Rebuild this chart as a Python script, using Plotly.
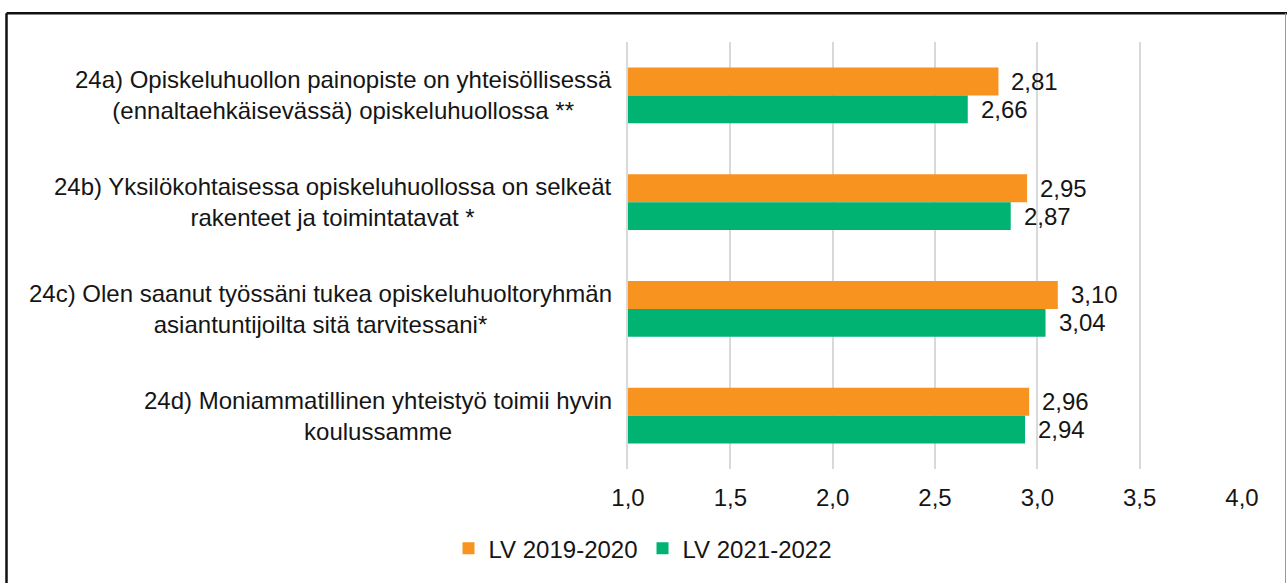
import plotly.graph_objects as go

categories = [
    "24a) Opiskeluhuollon painopiste on yhteisöllisessä<br>(ennaltaehkäisevässä) opiskeluhuollossa **",
    "24b) Yksilökohtaisessa opiskeluhuollossa on selkeät<br>rakenteet ja toimintatavat *",
    "24c) Olen saanut työssäni tukea opiskeluhuoltoryhmän<br>asiantuntijoilta sitä tarvitessani*",
    "24d) Moniammatillinen yhteistyö toimii hyvin<br>koulussamme",
]
cat_ids = ["24a", "24b", "24c", "24d"]
series_names = ["LV 2019-2020", "LV 2021-2022"]
values_2019 = [2.81, 2.95, 3.10, 2.96]
values_2021 = [2.66, 2.87, 3.04, 2.94]
x_ticks = [1.0, 1.5, 2.0, 2.5, 3.0, 3.5, 4.0]

ORANGE = "#F7931E"
GREEN = "#00B373"
FONT = "Liberation Sans, Arial, sans-serif"
TXT = "#151515"
FS = 24

W, H = 1287, 583
L, R, T, B = 628, 45, 42, 112
pw, ph = W - L - R, H - T - B

def px_x(p):
    return (p - L) / pw

def px_y(p):
    return (H - B - p) / ph

fig = go.Figure()
fig.add_trace(go.Bar(y=cat_ids, x=values_2019, name=series_names[0], orientation="h",
                     marker=dict(color=ORANGE, line=dict(width=0)), base=0))
fig.add_trace(go.Bar(y=cat_ids, x=values_2021, name=series_names[1], orientation="h",
                     marker=dict(color=GREEN, line=dict(width=0)), base=0))

annotations = []
for cid, v1, v2 in zip(cat_ids, values_2019, values_2021):
    for v, ys in ((v1, 14), (v2, -14)):
        annotations.append(dict(x=v, y=cid, xref="x", yref="y", text=f"{v:.2f}".replace(".", ","),
                                showarrow=False, xanchor="left", yanchor="middle", xshift=11, yshift=ys,
                                font=dict(family=FONT, size=FS, color=TXT)))
for cid, lab in zip(cat_ids, categories):
    annotations.append(dict(x=0, y=cid, xref="paper", yref="y", text=lab, showarrow=False,
                            xanchor="right", yanchor="middle", align="center", xshift=-14,
                            font=dict(family=FONT, size=FS, color=TXT)))

shapes = [
    dict(type="line", xref="paper", yref="paper", x0=px_x(6.5), x1=px_x(1287), y0=px_y(13), y1=px_y(13),
         line=dict(color="#111111", width=2.5)),
    dict(type="line", xref="paper", yref="paper", x0=px_x(6.5), x1=px_x(6.5), y0=px_y(13), y1=px_y(590),
         line=dict(color="#111111", width=2.5)),
    dict(type="line", xref="paper", yref="paper", x0=px_x(1285.5), x1=px_x(1285.5), y0=px_y(13), y1=px_y(590),
         line=dict(color="#9a9a9a", width=1)),
]

fig.update_layout(
    width=W, height=H,
    margin=dict(l=L, r=R, t=T, b=B, pad=0),
    paper_bgcolor="white", plot_bgcolor="white",
    barmode="group", bargap=0.48, bargroupgap=0,
    separators=",.",
    font=dict(family=FONT, size=FS, color=TXT),
    showlegend=True,
    legend=dict(orientation="h", x=px_x(643), xanchor="center", y=px_y(551), yanchor="middle",
                font=dict(family=FONT, size=FS, color=TXT), itemwidth=30, traceorder="normal"),
    xaxis=dict(range=[1, 4], tickvals=x_ticks, tickformat=".1f", showgrid=True, gridcolor="#d9d9d9",
               gridwidth=2, zeroline=False, showline=False, ticks="", ticklabelstandoff=12,
               tickfont=dict(family=FONT, size=FS, color=TXT), fixedrange=True),
    yaxis=dict(categoryorder="array", categoryarray=cat_ids, autorange="reversed", showticklabels=False,
               showgrid=False, zeroline=False, showline=True, linecolor="#d9d9d9", linewidth=2,
               ticks="", fixedrange=True),
    annotations=annotations,
    shapes=shapes,
)

fig.write_html("out.html", config={"displayModeBar": False},
               post_script="document.body.style.margin='0';document.body.style.overflow='hidden';")
